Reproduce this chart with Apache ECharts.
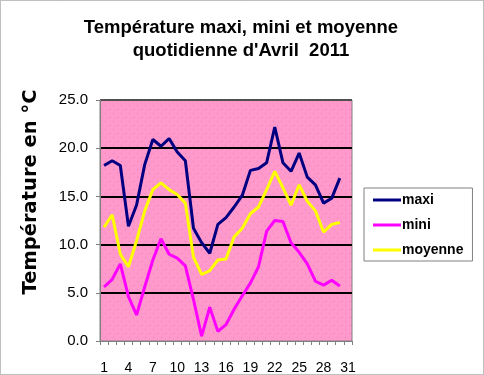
<!DOCTYPE html>
<html><head><meta charset="utf-8">
<script src="https://cdn.jsdelivr.net/npm/echarts@6/dist/echarts.min.js"></script>
<style>html,body{margin:0;padding:0;background:#fff}#c{width:484px;height:375px}</style>
</head><body><div id="c"></div>
<script>
const days = Array.from({length:31}, (_, i) => String(i + 1));
const maxi = [18.2,18.7,18.2,11.9,14.1,18.3,20.9,20.2,21.0,19.6,18.7,11.7,10.2,9.1,12.1,12.8,13.9,15.1,17.7,17.9,18.5,22.2,18.5,17.6,19.5,17.0,16.2,14.3,14.8,16.9];
const mini = [5.6,6.4,8.0,4.6,2.7,5.6,8.4,10.6,9.0,8.6,7.8,4.3,0.5,3.5,1.0,1.7,3.3,4.7,6.0,7.7,11.4,12.5,12.4,10.2,9.2,8.0,6.2,5.8,6.3,5.7];
const moyenne = [11.8,13.1,9.0,7.7,10.4,13.5,15.7,16.4,15.7,15.2,14.3,8.7,6.9,7.3,8.4,8.5,10.8,11.7,13.2,13.9,15.7,17.6,15.9,14.1,16.2,14.5,13.5,11.3,12.1,12.3];
const yTicks = [0, 5, 10, 15, 20, 25];

const pc = document.createElement('canvas');
pc.width = 8; pc.height = 8;
const g = pc.getContext('2d');
g.fillStyle = '#FF99CC'; g.fillRect(0,0,8,8);
g.fillStyle = '#E882B8'; g.fillRect(1,1,1,1); g.fillRect(5,5,1,1);

const font = '"Liberation Sans", Arial, sans-serif';
const chart = echarts.init(document.getElementById('c'), null, {renderer:'canvas'});
chart.setOption({
  animation:false,
  backgroundColor:'#fff',
  title:{
    text:'Température maxi, mini et moyenne\nquotidienne d\'Avril  2011',
    left:236, top:11, textAlign:'center',
    textStyle:{fontFamily:font, fontWeight:'bold', fontSize:18.5, color:'#000', lineHeight:23}
  },
  legend:{
    orient:'vertical', left:364, top:188,
    padding:[5,9,4,9], itemGap:11, itemWidth:28, itemHeight:3, icon:'rect',
    borderColor:'#808080', borderWidth:1, backgroundColor:'#fff',
    textStyle:{fontFamily:font, fontWeight:'bold', fontSize:14, lineHeight:14, color:'#000', padding:[0,0,0,-4]},
    data:['maxi','mini','moyenne']
  },
  grid:{left:100, top:100, width:252, height:245, show:true,
        backgroundColor:{image:pc, repeat:'repeat'}, borderColor:'#808080', borderWidth:1},
  xAxis:{
    type:'category', data:days, boundaryGap:true,
    axisLine:{lineStyle:{color:'#808080', width:1}},
    axisTick:{show:true, interval:0, length:4, lineStyle:{color:'#808080'}},
    axisLabel:{interval:2, margin:20, fontFamily:font, fontSize:14, color:'#000'}
  },
  yAxis:{
    type:'value', min:0, max:25, interval:5,
    axisLine:{show:true, lineStyle:{color:'#808080'}},
    axisTick:{show:true, length:4, lineStyle:{color:'#808080'}},
    axisLabel:{margin:12, fontFamily:font, fontSize:15, color:'#000', formatter:v => v.toFixed(1)},
    splitLine:{show:true, lineStyle:{color:['rgba(0,0,0,0)','#000','#000','#000','#000','#505050'], width:2}}
  },
  series:[
    {name:'maxi', type:'line', data:maxi, symbol:'none', lineStyle:{color:'#000080', width:3}, itemStyle:{color:'#000080'}},
    {name:'mini', type:'line', data:mini, symbol:'none', lineStyle:{color:'#FF00FF', width:3}, itemStyle:{color:'#FF00FF'}},
    {name:'moyenne', type:'line', data:moyenne, symbol:'none', lineStyle:{color:'#FFFF00', width:3}, itemStyle:{color:'#FFFF00'}}
  ],
  graphic:[
    {type:'text', x:31, y:192, rotation:Math.PI/2, silent:true,
     style:{text:'Température en °C', font:'bold 19.5px "DejaVu Sans", sans-serif', fill:'#000', align:'center', verticalAlign:'middle'}},
    {type:'rect', shape:{x:0.5, y:0.5, width:483, height:374},
     style:{fill:null, stroke:'#808080', lineWidth:1, lineDash:[1,1]}, silent:true, z:100}
  ]
});
</script></body></html>
